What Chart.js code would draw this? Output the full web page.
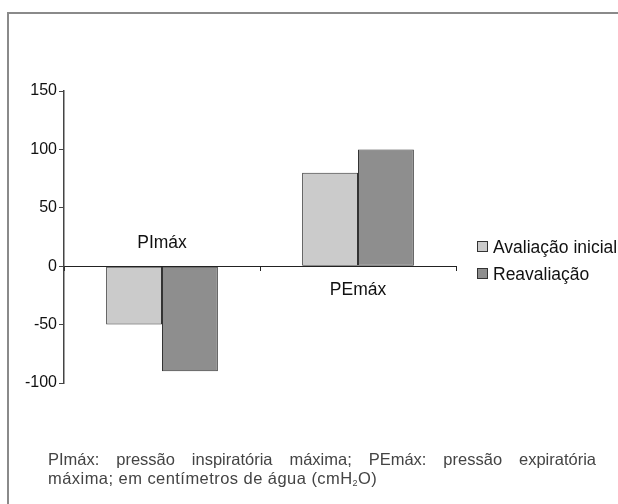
<!DOCTYPE html>
<html>
<head>
<meta charset="utf-8">
<script src="https://cdn.jsdelivr.net/npm/chart.js@4/dist/chart.umd.min.js"></script>
<style>
  html, body { margin: 0; padding: 0; background: #fff; }
  body { width: 618px; height: 504px; position: relative; overflow: hidden;
         font-family: "Liberation Sans", Arial, Helvetica, sans-serif; }
  #frame { position: absolute; left: 7px; top: 12px; width: 700px; height: 600px;
           border-top: 2px solid #8a8a8a; border-left: 2px solid #8a8a8a; }
  #wrap { position: absolute; left: 0; top: 0; width: 618px; height: 504px; }
  #legend { position: absolute; left: 477px; top: 233px; font-size: 17.5px; color: #111; white-space: nowrap; }
  .item { height: 27px; line-height: 20px; display: flex; align-items: center; }
  .sw { width: 9px; height: 9px; border: 1px solid #333; margin-right: 5px; flex: none; }
  #caption { position: absolute; left: 48px; top: 450px; width: 548px; font-size: 16.5px;
             line-height: 19px; color: #444; }
  #caption .l1 { white-space: nowrap; display: flex; justify-content: space-between; }
  #caption .l2 { letter-spacing: 0.45px; white-space: nowrap; }
  #caption sub { font-size: 9px; vertical-align: -2px; line-height: 0; }
</style>
</head>
<body>
<div id="frame"></div>
<div id="wrap"><canvas id="c" width="618" height="504"></canvas></div>
<div id="legend"></div>
<div id="caption">
  <div class="l1"><span>PImáx:</span><span>pressão</span><span>inspiratória</span><span>máxima;</span><span>PEmáx:</span><span>pressão</span><span>expiratória</span></div>
  <div class="l2">máxima; em centímetros de água (cmH<sub>2</sub>O)</div>
</div>
<script>
// Respiratory muscle strength, first assessment vs. reassessment
const categories = ["PImáx", "PEmáx"];
const seriesNames = ["Avaliação inicial", "Reavaliação"];
const avaliacaoInicial = [-50, 80];
const reavaliacao = [-90, 100];
const yTicks = [-100, -50, 0, 50, 100, 150];

const fills = ["#cbcbcb", "#8e8e8e"];
const edge = "#333333";

// Category names sit on the zero line, on the side opposite the bars
const categoryLabels = {
  id: "categoryLabels",
  afterDatasetsDraw(chart) {
    const ctx = chart.ctx;
    const xs = chart.scales.x, ys = chart.scales.y;
    const y0 = ys.getPixelForValue(0);
    ctx.save();
    ctx.font = '17.5px "Liberation Sans", Arial, sans-serif';
    ctx.fillStyle = "#111";
    ctx.textAlign = "center";
    ctx.textBaseline = "middle";
    categories.forEach((name, i) => {
      const vals = chart.data.datasets.map(d => d.data[i]);
      const positive = vals.every(v => v >= 0);
      const x = xs.getPixelForValue(i);
      ctx.fillText(name, x, positive ? y0 + 24 : y0 - 23);
    });
    ctx.restore();
  }
};

new Chart(document.getElementById("c"), {
  type: "bar",
  data: {
    labels: categories,
    datasets: [
      { label: seriesNames[0], data: avaliacaoInicial, backgroundColor: fills[0],
        borderColor: edge, borderWidth: 1, borderSkipped: false },
      { label: seriesNames[1], data: reavaliacao, backgroundColor: fills[1],
        borderColor: edge, borderWidth: 1, borderSkipped: false }
    ]
  },
  options: {
    responsive: false,
    animation: false,
    events: [],
    layout: { padding: { left: 20, top: 91, right: 162, bottom: 121 } },
    datasets: { bar: { categoryPercentage: 0.57, barPercentage: 1.0 } },
    plugins: { legend: { display: false }, tooltip: { enabled: false } },
    scales: {
      x: {
        position: { y: 0 },
        offset: true,
        grid: { display: true, drawOnChartArea: false, offset: true, tickLength: 4, color: "#222" },
        border: { display: true, color: "#222", width: 1 },
        ticks: { display: false }
      },
      y: {
        min: -100, max: 150,
        afterFit(s) { s.width = 44; },
        afterBuildTicks(s) { s.ticks = yTicks.map(v => ({ value: v })); },
        grid: { display: true, drawOnChartArea: false, tickLength: 5, color: "#444" },
        border: { display: true, color: "#444", width: 1.5 },
        ticks: { color: "#111", padding: 2, font: { family: '"Liberation Sans", Arial, sans-serif', size: 16 } }
      }
    }
  },
  plugins: [categoryLabels]
});

// Legend
const lg = document.getElementById("legend");
seriesNames.forEach((n, i) => {
  const row = document.createElement("div");
  row.className = "item";
  const sw = document.createElement("span");
  sw.className = "sw";
  sw.style.background = fills[i];
  const t = document.createElement("span");
  t.textContent = n;
  row.appendChild(sw); row.appendChild(t);
  lg.appendChild(row);
});
</script>
</body>
</html>
